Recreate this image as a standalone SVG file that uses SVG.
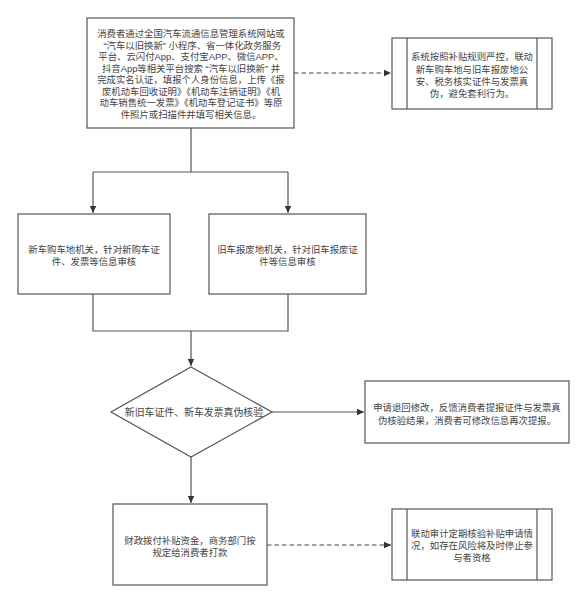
<svg xmlns="http://www.w3.org/2000/svg" width="588" height="604" viewBox="0 0 588 604">
<defs>
<marker id="ah" markerWidth="8" markerHeight="8" refX="7" refY="4" orient="auto" markerUnits="userSpaceOnUse">
<path d="M0,0.8 L7,4 L0,7.2 Z" fill="#333"/>
</marker>
<style>
.box{fill:#fff;stroke:#555;stroke-width:1.2}
.ln{fill:none;stroke:#555;stroke-width:1.2}
.dash{fill:none;stroke:#444;stroke-width:1.2;stroke-dasharray:4.5 3}
text{font-family:"Liberation Sans","Noto Sans CJK SC",sans-serif;font-size:9.4px;fill:#444;text-anchor:middle}
</style>
</defs>
<rect width="588" height="604" fill="#fff"/>
<g id="connectors">
<path class="ln" d="M191,128 V172 M93,172 H288" />
<path class="ln" d="M93,172 V213" marker-end="url(#ah)"/>
<path class="ln" d="M288,172 V213" marker-end="url(#ah)"/>
<path class="ln" d="M93,294 V331 H288 V294" />
<path class="ln" d="M191,331 V366" marker-end="url(#ah)"/>
<path class="ln" d="M272,412 H364" marker-end="url(#ah)"/>
<path class="ln" d="M191,457 V503" marker-end="url(#ah)"/>
<path class="dash" d="M294,73 H391" marker-end="url(#ah)"/>
<path class="dash" d="M267,545 H391" marker-end="url(#ah)"/>
</g>
<g id="n-start">
<rect class="box" x="87" y="18" width="207" height="110"/>
<text x="191" y="37.3"><tspan x="191">消费者通过全国汽车流通信息管理系统网站或</tspan><tspan x="191" dy="11.5">&#160;“汽车以旧换新”&#160;小程序、省一体化政务服务</tspan><tspan x="191" dy="11.5">平台、云闪付App、支付宝APP、微信APP、</tspan><tspan x="191" dy="11.5">抖音App等相关平台搜索&#160;“汽车以旧换新”&#160;并</tspan><tspan x="191" dy="11.5">完成实名认证，填报个人身份信息，上传《报</tspan><tspan x="191" dy="11.5">废机动车回收证明》《机动车注销证明》《机</tspan><tspan x="191" dy="11.5">动车销售统一发票》《机动车登记证书》等原</tspan><tspan x="191" dy="11.5">件照片或扫描件并填写相关信息。</tspan></text>
</g>
<g id="n-control">
<rect class="box" x="392" y="38" width="160" height="71"/>
<path class="ln" d="M407,38 V109 M537,38 V109"/>
<text x="472" y="60.3"><tspan x="472">系统按照补贴规则严控，联动</tspan><tspan x="472" dy="12.3">新车购车地与旧车报废地公</tspan><tspan x="472" dy="12.3">安、税务核实证件与发票真</tspan><tspan x="472" dy="12.3">伪，避免套利行为。</tspan></text>
</g>
<g id="n-new">
<rect class="box" x="18" y="214" width="152" height="80"/>
<text x="94" y="253.3"><tspan x="94">新车购车地机关，针对新购车证</tspan><tspan x="94" dy="11.5">件、发票等信息审核</tspan></text>
</g>
<g id="n-old">
<rect class="box" x="209" y="214" width="157" height="80"/>
<text x="287.5" y="253.3"><tspan x="287.5">旧车报废地机关，针对旧车报废证</tspan><tspan x="287.5" dy="11.5">件等信息审核</tspan></text>
</g>
<g id="n-check">
<path class="box" d="M191,367 L272,412 L191,457 L111,412 Z"/>
<text x="194" y="415.5" style="font-size:9.9px">新旧车证件、新车发票真伪核验</text>
</g>
<g id="n-return">
<rect class="box" x="365" y="381" width="204" height="62"/>
<text x="467" y="411.3"><tspan x="467">申请退回修改，反馈消费者提报证件与发票真</tspan><tspan x="467" dy="13">伪核验结果，消费者可修改信息再次提报。</tspan></text>
</g>
<g id="n-pay">
<rect class="box" x="113" y="504" width="154" height="81"/>
<text x="190" y="544.3"><tspan x="190">财政拨付补贴资金，商务部门按</tspan><tspan x="190" dy="11.5">规定给消费者打款</tspan></text>
</g>
<g id="n-audit">
<rect class="box" x="392" y="509" width="160" height="71"/>
<path class="ln" d="M407,509 V580 M537,509 V580"/>
<text x="472" y="537.3"><tspan x="472">联动审计定期核验补贴申请情</tspan><tspan x="472" dy="12">况，如存在风险将及时停止参</tspan><tspan x="472" dy="12">与者资格</tspan></text>
</g>
</svg>
